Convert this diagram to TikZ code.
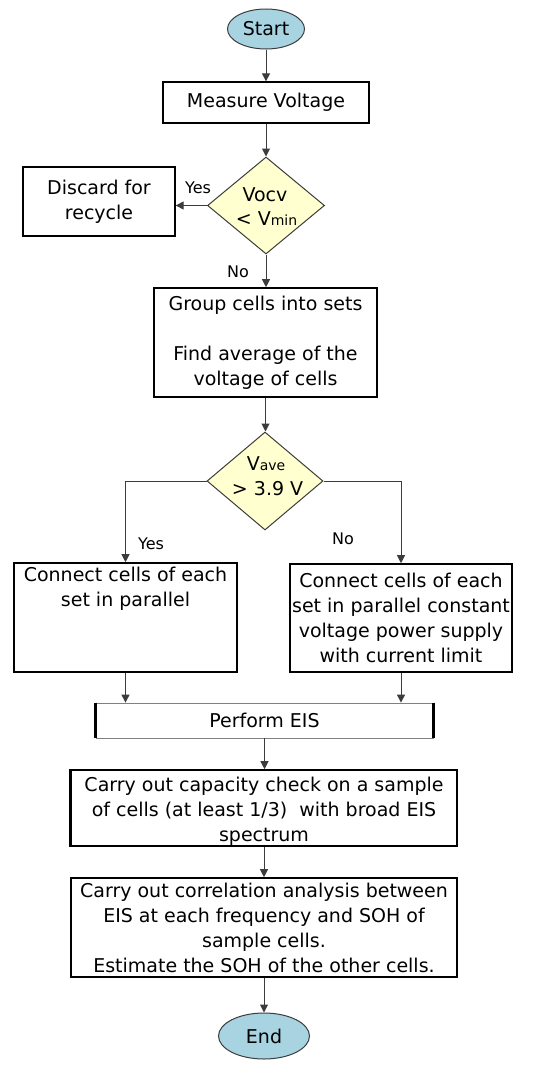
\documentclass[tikz,border=0pt]{standalone}
\usepackage{fontspec}
\setmainfont{DejaVu Sans}
\usetikzlibrary{arrows.meta,shapes.geometric}
\definecolor{termblue}{RGB}{168,212,226}
\definecolor{decyellow}{RGB}{255,255,208}
\definecolor{linegray}{RGB}{60,60,60}
\newcommand{\smallsub}[1]{{\fontsize{14}{14}\selectfont #1}}
\begin{document}
\begin{tikzpicture}[x=1pt,y=-1pt,
  box/.style={draw=black,line width=1.6pt,rectangle,inner sep=0pt,align=center,font=\fontsize{19}{25}\selectfont},
  txt/.style={inner sep=0pt,align=center,font=\fontsize{19}{25}\selectfont},
  term/.style={ellipse,draw=linegray,line width=1pt,fill=termblue,inner sep=0pt,font=\fontsize{19}{22}\selectfont},
  dec/.style={diamond,draw=linegray,line width=1pt,fill=decyellow,inner sep=0pt},
  arr/.style={draw=linegray,line width=1pt,-{Triangle[length=8pt,width=8pt]}},
  lbl/.style={font=\fontsize{16}{18}\selectfont,inner sep=0pt}]
\useasboundingbox (0,0) rectangle (550,1068);

% terminals
\node[term,minimum width=77pt,minimum height=40pt] (start) at (266,29) {Start};
\node[term,minimum width=91pt,minimum height=46pt] (end) at (264,1036) {End};

% boxes
\node[box,line width=1.3pt,minimum width=206pt,minimum height=41pt] (mv) at (266,102.5) {Measure Voltage};
\node[dec,minimum width=117pt,minimum height=97pt] (d1) at (266,205.5) {};
\node[txt] (d1t) at (265,207) {Vocv\\[-1pt]\,< V\smallsub{min}};
\node[box,line width=1.3pt,minimum width=152pt,minimum height=69pt] (disc) at (99,201.5) {Discard for\\recycle};
\node[box,minimum width=223pt,minimum height=109pt] (grp) at (265.5,342.5) {Group cells into sets\\[25pt]Find average of the\\voltage of cells};
\node[dec,minimum width=116pt,minimum height=98pt] (d2) at (265,481) {};
\node[txt] (d2t) at (266,476) {V\smallsub{ave}\\\,> 3.9 V};

\node[box,minimum width=223pt,minimum height=109pt] (lbox) at (125.5,617.5) {};
\node[txt,anchor=north] (lboxt) at (125.5,567) {Connect cells of each\\set in parallel};
\node[box,minimum width=222pt,minimum height=108pt] (rbox) at (401,618) {Connect cells of each\\set in parallel constant\\voltage power supply\\with current limit};

\node[box,draw=gray,line width=0.8pt,minimum width=337pt,minimum height=35pt] (eis) at (264.5,720.5) {Perform EIS};
\draw[line width=3pt] (eis.north west) -- (eis.south west);
\draw[line width=2.2pt] (eis.north east) -- (eis.south east);

\node[box,minimum width=386pt,minimum height=76pt] (cap) at (264,808) {};
\node[txt] (capt) at (264,811) {Carry out capacity check on a sample\\of cells (at least 1/3) \ with broad EIS\\spectrum};
\draw[line width=3pt] (cap.north west) -- (cap.south west);

\node[box,minimum width=386pt,minimum height=99pt] (cor) at (264,927.5) {Carry out correlation analysis between\\EIS at each frequency and SOH of\\sample cells.\\Estimate the SOH of the other cells.};

% connectors
\draw[arr] (start.south) -- (start.south |- mv.north);
\draw[arr] (mv.south) -- (mv.south |- d1.north);
\draw[arr] (d1.west) -- (d1.west -| disc.east);
\draw[arr] (d1.south) -- (d1.south |- grp.north);
\draw[arr] (grp.south) -- (grp.south |- d2.north);
\draw[arr] (d2.west) -| (lbox.north);
\draw[arr] (d2.east) -| (rbox.north);
\draw[arr] (lbox.south) -- (lbox.south |- eis.north);
\draw[arr] (rbox.south) -- (rbox.south |- eis.north);
\draw[arr] (eis.south) -- (eis.south |- cap.north);
\draw[arr] (cap.south) -- (cap.south |- cor.north);
\draw[arr] (cor.south) -- (cor.south |- end.north);

% labels
\node[lbl] (y1) at (198,188) {Yes};
\node[lbl] (n1) at (238,272) {No};
\node[lbl] (y2) at (151,544) {Yes};
\node[lbl] (n2) at (343,539) {No};
\end{tikzpicture}
\end{document}
